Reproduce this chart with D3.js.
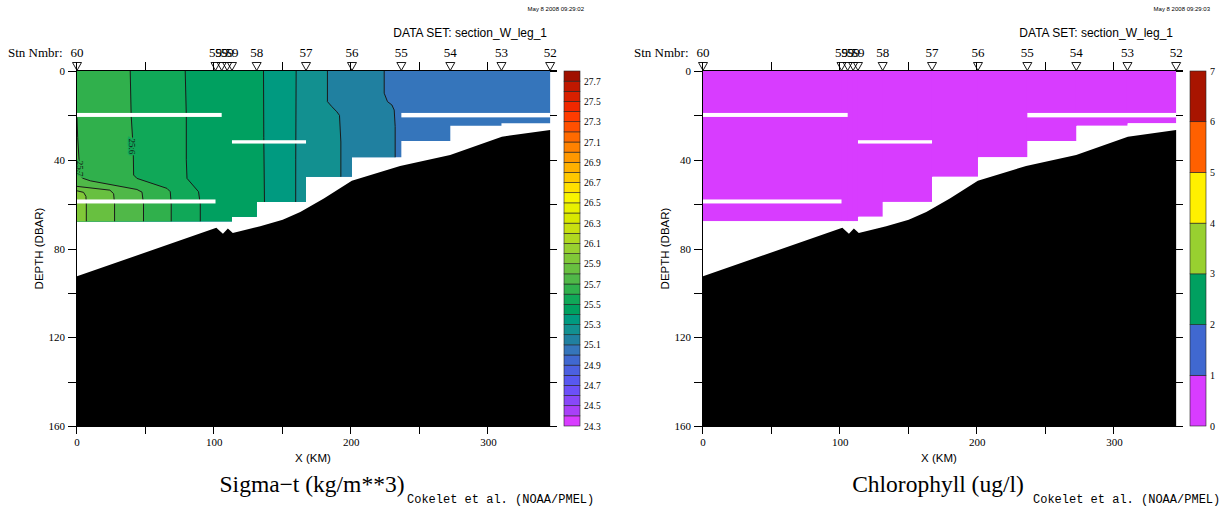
<!DOCTYPE html>
<html><head><meta charset="utf-8">
<script src="https://cdn.jsdelivr.net/npm/d3@7"></script>
<style>body{margin:0;background:#fff}svg{display:block}</style></head>
<body><svg id="chart" width="1231" height="512"></svg>
<script>
// ---------------- data ----------------
const stationNames = ["60","59","59","59","59","58","57","56","55","54","53","52"];
const stationKm    = [0,101,105.5,109.5,113,131,167,200.5,236.5,272.2,309.5,345];
// deepest valid data (dbar) for each segment between consecutive stations
const segmentBottom = [67.7,67.7,67.7,67.7,65.7,59,47.7,38.9,31.6,24.7,23.6];
// missing-data rows
const gapKmStart = [0,113,0,236.5];
const gapKmEnd   = [105.5,167,101,345];
const gapTop     = [18.9,31.2,57.9,18.9];
const gapBottom  = [20.7,32.7,59.7,20.9];
// bottom topography
const bathyKm    = [0,101.6,106.4,110,113.6,133.6,150,162.8,180,200.4,235.6,272.1,309.8,345];
const bathyDepth = [92.5,70.7,73.3,71,73,70,67,63.5,57.5,49.5,42.8,37.9,29.6,26.6];
// sigma-t contour levels and their traced positions [km, dbar]
const sigmaLevels = [25.1,25.2,25.3,25.4,25.5,25.6,25.7,25.8,25.9];
const sigmaLines = [
  [[224,0],[224,10],[226.4,13.8],[229.6,15.3],[231.3,17.6],[232,25],[232,160]],
  [[182.6,0],[182.6,13.8],[185.9,16.1],[189.5,18.4],[191.4,20],[192.4,32],[192.4,160]],
  [[159.8,0],[159.5,40],[159.3,160]],
  [[136,0],[136.2,30],[136.7,59],[136.7,160]],
  [[78.9,0],[79.7,20],[79.7,40],[80.2,48.4],[88.6,54.4],[89.9,60],[89.9,160]],
  [[38.8,0],[39.5,20],[41,35],[41.3,46.9],[43.7,48.4],[65.6,52.9],[68,54.4],[68.7,60],[68.7,160]],
  [[0,21],[0.5,30],[1.5,40],[2,46],[4,48.3],[9.7,49.5],[43.7,53.4],[47.4,54.6],[48.5,60],[48.5,160]],
  [[0,52],[24,53.7],[26.7,55.3],[27.4,60],[27.4,160]],
  [[0,54],[4.8,54.7],[6.5,56.5],[6.8,60],[6.8,160]]
];
const sigmaLabelLevels = ["25.7","25.6"];
const sigmaLabelKm     = [2.3,40];
const sigmaLabelDepth  = [44,34];
const sigmaBreaks = [24.3,24.4,24.5,24.6,24.7,24.8,24.9,25.0,25.1,25.2,25.3,25.4,25.5,25.6,25.7,25.8,25.9,
  26.0,26.1,26.2,26.3,26.4,26.5,26.6,26.7,26.8,26.9,27.0,27.1,27.2,27.3,27.4,27.5,27.6,27.7,27.8];
const sigmaTicks = ["24.3","24.5","24.7","24.9","25.1","25.3","25.5","25.7","25.9","26.1","26.3","26.5","26.7","26.9","27.1","27.3","27.5","27.7"];
// chlorophyll (ug/l) per station
const chlValues = [0.4,0.5,0.5,0.5,0.5,0.6,0.5,0.5,0.4,0.4,0.3,0.3];
const chlBreaks = [0,1,2,3,4,5,6,7];
const chlTicks  = ["0","1","2","3","4","5","6","7"];
const xTickValues = [0,50,100,150,200,250,300];
const xTickLabels = ["0","100","200","300"];
const yTickValues = [0,20,40,60,80,100,120,140,160];
const yTickLabels = ["0","40","80","120","160"];

// ---------------- styles ----------------
const sigmaPalette = ["#d83cff","#a840f8","#8848f8","#6c50f8","#5858f0","#4c60e0","#4068d0","#3575bb",
  "#2080a0","#129090","#009a80","#00a060","#10a858","#30b04c","#50b848","#68c040","#80c838","#98d030",
  "#b0d820","#c8e010","#d8e800","#e8f000","#f8f400","#ffe000","#ffc800","#ffb000","#ff9800","#ff8200",
  "#ff6a00","#ff5000","#ff3c00","#f02800","#d82000","#c01800","#a01000"];
const chlPalette = ["#d83cff","#4068d0","#00a060","#98d030","#fff000","#ff6000","#a81400"];
const SERIF = "'Liberation Serif','Times New Roman',serif";
const SANS  = "'Liberation Sans',Arial,sans-serif";
const MONO  = "'Liberation Mono','Courier New',monospace";

const svg = d3.select("#chart");

function panel(off, cfg, id){
  const x = d3.scaleLinear().domain([0,350]).range([77+off,557+off]);
  const y = d3.scaleLinear().domain([0,160]).range([71,426]);
  const color = d3.scaleThreshold().domain(cfg.breaks.slice(1,-1)).range(cfg.palette);
  const g = svg.append("g");

  // data mask
  const mask = [[0,0],[stationKm[stationKm.length-1],0]];
  for(let i=segmentBottom.length-1;i>=0;i--){
    mask.push([stationKm[i+1],segmentBottom[i]]);
    mask.push([stationKm[i],segmentBottom[i]]);
  }
  const poly = d3.line().x(d=>x(d[0])).y(d=>y(d[1]));
  svg.append("defs").append("clipPath").attr("id","clip"+id)
    .append("path").attr("d", poly(mask)+"Z");
  const fg = g.append("g").attr("clip-path","url(#clip"+id+")");
  cfg.fill(fg, x, y, color, poly);

  // gaps
  g.selectAll(".gap").data(gapKmStart).join("rect")
    .attr("x",(d,i)=>x(d)).attr("width",(d,i)=>x(gapKmEnd[i])-x(d))
    .attr("y",(d,i)=>y(gapTop[i])).attr("height",(d,i)=>y(gapBottom[i])-y(gapTop[i]))
    .attr("fill","#fff");

  // bathymetry
  const bpts = bathyKm.map((k,i)=>[k,bathyDepth[i]]);
  bpts.push([bathyKm[bathyKm.length-1],160],[0,160]);
  g.append("path").attr("d",poly(bpts)+"Z").attr("fill","#000");

  // axes
  const ax = g.append("g").attr("stroke","#000").attr("stroke-width",1).attr("shape-rendering","crispEdges");
  ax.append("line").attr("x1",x(0)).attr("x2",x(350)).attr("y1",426.5).attr("y2",426.5);
  ax.append("line").attr("x1",x(0)).attr("x2",x(350)).attr("y1",70.5).attr("y2",70.5);
  ax.append("line").attr("x1",x(0)-0.5).attr("x2",x(0)-0.5).attr("y1",70.5).attr("y2",426.5);
  xTickValues.forEach(v=>{
    ax.append("line").attr("x1",Math.round(x(v))-0.5).attr("x2",Math.round(x(v))-0.5).attr("y1",426.5).attr("y2",434);
    ax.append("line").attr("x1",Math.round(x(v))-0.5).attr("x2",Math.round(x(v))-0.5).attr("y1",70.5).attr("y2",62);
  });
  yTickValues.forEach(v=>{
    ax.append("line").attr("x1",x(0)-9).attr("x2",x(0)).attr("y1",Math.round(y(v))+0.5).attr("y2",Math.round(y(v))+0.5);
    ax.append("line").attr("x1",x(350)-7).attr("x2",x(350)).attr("y1",Math.round(y(v))+0.5).attr("y2",Math.round(y(v))+0.5);
  });
  g.selectAll(".xl").data(xTickLabels).join("text")
    .attr("x",d=>x(+d)).attr("y",446).attr("text-anchor","middle")
    .attr("font-family",SERIF).attr("font-size",11).text(d=>d);
  g.selectAll(".yl").data(yTickLabels).join("text")
    .attr("x",x(0)-12).attr("y",d=>y(+d)+4).attr("text-anchor","end")
    .attr("font-family",SERIF).attr("font-size",11).text(d=>d);
  g.append("text").attr("x",x(0)+236).attr("y",462).attr("text-anchor","middle")
    .attr("font-family",SANS).attr("font-size",11.5).text("X (KM)");
  g.append("text").attr("transform",`translate(${x(0)-34},${y(80)}) rotate(-90)`).attr("text-anchor","middle")
    .attr("font-family",SANS).attr("font-size",11.5).text("DEPTH (DBAR)");

  // stations
  g.selectAll(".tri").data(stationKm).join("path")
    .attr("d",d=>{const cx=x(d);return `M${cx-4.5},62.5L${cx+4.5},62.5L${cx},70.5Z`;})
    .attr("fill","none").attr("stroke","#000").attr("stroke-width",0.9);
  g.selectAll(".sl").data(stationKm).join("text")
    .attr("x",d=>x(d)).attr("y",57).attr("text-anchor","middle")
    .attr("font-family",SERIF).attr("font-size",13).text((d,i)=>stationNames[i]);
  g.append("text").attr("x",8+off).attr("y",57).attr("font-family",SERIF).attr("font-size",13).text("Stn Nmbr:");

  // colorbar
  const cb = d3.scaleLinear().domain([cfg.breaks[0],cfg.breaks[cfg.breaks.length-1]]).range([426,71]);
  const cx0 = x(350)+7;
  g.selectAll(".cb").data(cfg.breaks.slice(0,-1)).join("rect")
    .attr("x",cx0).attr("width",16)
    .attr("y",(d,i)=>cb(cfg.breaks[i+1])).attr("height",(d,i)=>cb(d)-cb(cfg.breaks[i+1]))
    .attr("fill",(d,i)=>color((d+cfg.breaks[i+1])/2)).attr("stroke","#222").attr("stroke-width",0.6);
  g.selectAll(".cbl").data(cfg.ticks).join("text")
    .attr("x",cx0+20).attr("y",d=>cb(+d)+3.5)
    .attr("font-family",SERIF).attr("font-size",cfg.cbFont).text(d=>d);

  // texts
  g.append("text").attr("x",x(0)+470).attr("y",37).attr("text-anchor","end")
    .attr("font-family",SANS).attr("font-size",12).text("DATA SET: section_W_leg_1");
  g.append("text").attr("x",x(0)+507).attr("y",11).attr("text-anchor","end")
    .attr("font-family",SANS).attr("font-size",6).text(cfg.stamp);
  g.append("text").attr("x",x(0)+235).attr("y",492).attr("text-anchor","middle")
    .attr("font-family",SERIF).attr("font-size",23.5).text(cfg.title);
  g.append("text").attr("x",x(0)+330).attr("y",503)
    .attr("font-family",MONO).attr("font-size",12).text("Cokelet et al. (NOAA/PMEL)");
}

panel(0,{
  breaks:sigmaBreaks, palette:sigmaPalette, ticks:sigmaTicks, cbFont:9.5,
  title:"Sigma\u2212t (kg/m**3)", stamp:"May  8 2008 09:29:02",
  fill:(fg,x,y,color,poly)=>{
    fg.append("rect").attr("x",x(0)).attr("y",y(0)).attr("width",x(350)-x(0)).attr("height",y(160)-y(0))
      .attr("fill",color(sigmaLevels[0]-0.05));
    sigmaLines.forEach((ln,i)=>{
      const pts = ln.concat([[ln[ln.length-1][0],160],[0,160],[0,ln[0][1]]]);
      fg.append("path").attr("d",poly(pts)+"Z").attr("fill",color(sigmaLevels[i]+0.05));
    });
    sigmaLines.forEach(ln=>{
      fg.append("path").attr("d",poly(ln)).attr("fill","none").attr("stroke","#1a1a1a").attr("stroke-width",1);
    });
    sigmaLabelLevels.forEach((t,i)=>{
      fg.append("text").attr("transform",`translate(${x(sigmaLabelKm[i])},${y(sigmaLabelDepth[i])}) rotate(90)`)
        .attr("text-anchor","middle").attr("dy","0.35em")
        .attr("font-family",SERIF).attr("font-size",9).attr("fill","#111")
        .attr("stroke",color(+t-0.05)).attr("stroke-width",3).attr("paint-order","stroke").text(t);
    });
  }
},"L");

panel(626,{
  breaks:chlBreaks, palette:chlPalette, ticks:chlTicks, cbFont:10,
  title:"Chlorophyll (ug/l)", stamp:"May  8 2008 09:29:03",
  fill:(fg,x,y,color,poly)=>{
    fg.selectAll(".seg").data(segmentBottom).join("rect")
      .attr("x",(d,i)=>x(stationKm[i])-0.5).attr("width",(d,i)=>x(stationKm[i+1])-x(stationKm[i])+1)
      .attr("y",y(0)).attr("height",d=>y(d)-y(0))
      .attr("fill",(d,i)=>color((chlValues[i]+chlValues[i+1])/2));
  }
},"R");
</script></body></html>
